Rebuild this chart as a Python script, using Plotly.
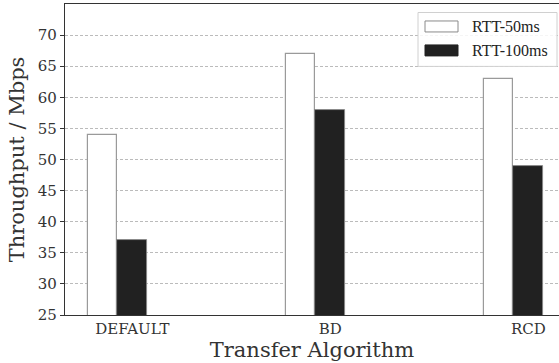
import plotly.graph_objects as go

categories = ["DEFAULT", "BD", "RCD"]
series_names = ["RTT-50ms", "RTT-100ms"]
rtt50 = [54, 67, 63]
rtt100 = [37, 58, 49]
y_ticks = [25, 30, 35, 40, 45, 50, 55, 60, 65, 70]

W, H = 559, 363
ML, MR, MT, MB = 65, 0, 4, 47.5
bar_w = 0.15
x_pos = list(range(len(categories)))

fig = go.Figure()
fig.add_trace(go.Bar(
    x=[p for p in x_pos], y=rtt50, width=bar_w, name=series_names[0],
    marker=dict(color="white", line=dict(color="#9a9a9a", width=1.2)),
    showlegend=False,
))
fig.add_trace(go.Bar(
    x=[p + bar_w for p in x_pos], y=rtt100, width=bar_w, name=series_names[1],
    marker=dict(color="#212121", line=dict(color="#8a8a8a", width=0.8)),
    showlegend=False,
))

# custom legend (box, swatches, labels) in paper coordinates
pw = W - ML - MR
ph = H - MT - MB
def px(xp):
    return (xp - ML) / pw
def py(yp):
    return 1 - (yp - MT) / ph

fig.add_shape(type="rect", xref="paper", yref="paper",
              x0=px(418), x1=px(557), y0=py(66.5), y1=py(12.5),
              line=dict(color="#d0d0d0", width=1), fillcolor="rgba(255,255,255,0.85)", layer="above")
swatches = [("white", "#8a8a8a", 26.5), ("#212121", "#212121", 50.5)]
for (fill, edge, yc), nm in zip(swatches, series_names):
    fig.add_shape(type="rect", xref="paper", yref="paper",
                  x0=px(425), x1=px(458), y0=py(yc + 5.5), y1=py(yc - 5.5),
                  line=dict(color=edge, width=1), fillcolor=fill, layer="above")
    fig.add_annotation(xref="paper", yref="paper", x=px(470), y=py(yc),
                       text=nm, showarrow=False, xanchor="left", yanchor="middle",
                       font=dict(family="Liberation Serif", size=16, color="#222"))

fig.update_layout(
    width=W, height=H,
    margin=dict(l=ML, r=MR, t=MT, b=MB, pad=0),
    paper_bgcolor="white", plot_bgcolor="white",
    barmode="overlay",
    bargap=0,
    font=dict(family="DejaVu Serif", color="#333"),
)
fig.update_xaxes(
    range=[-0.19, 2.305],
    tickmode="array",
    tickvals=[p + bar_w for p in x_pos],
    ticktext=categories,
    ticks="", showgrid=False, zeroline=False,
    showline=True, linecolor="#333", linewidth=1.2, mirror=True,
    tickfont=dict(family="DejaVu Serif", size=15, color="#333"),
    title=dict(text="Transfer Algorithm", standoff=4,
               font=dict(family="DejaVu Serif", size=21, color="#333")),
)
fig.update_yaxes(
    range=[25, 75],
    tickmode="array", tickvals=y_ticks,
    ticks="outside", ticklen=4, tickcolor="#333", tickwidth=1,
    showgrid=True, gridcolor="#bbbbbb", gridwidth=1, griddash="3px,2px",
    zeroline=False,
    showline=True, linecolor="#333", linewidth=1.2, mirror=False,
    tickfont=dict(family="DejaVu Serif", size=15, color="#333"),
    title=dict(text="Throughput / Mbps", standoff=7,
               font=dict(family="DejaVu Serif", size=21, color="#333")),
)

fig.write_html("out.html", config={"displayModeBar": False},
               post_script="document.body.style.margin='0';document.body.style.overflow='hidden';")
